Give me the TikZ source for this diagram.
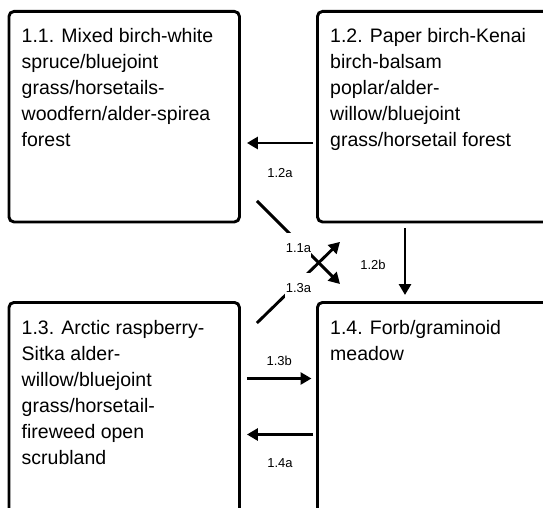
\documentclass[tikz,border=0pt]{standalone}
\usepackage{fontspec}
\setmainfont{Liberation Sans}
\usetikzlibrary{arrows.meta,calc}
\begin{document}
\begin{tikzpicture}[x=1pt,y=-1pt,
  box/.style={draw, line width=2.9pt, rounded corners=5pt, inner sep=0pt, anchor=north west},
  txt/.style={anchor=north west, inner sep=0pt, align=left, font=\fontsize{19.5}{26}\selectfont},
  arr/.style={line width=2.9pt, -{Triangle[length=11pt,width=12pt]}},
  lbl/.style={font=\fontsize{13}{15}\selectfont, inner sep=1pt},
  gaplbl/.style={lbl, fill=white, minimum width=26pt, minimum height=30pt, inner sep=0pt}]
\useasboundingbox (0,0) rectangle (543,508);
\fill[white] (0,0) rectangle (543,508);
\clip (0,0) rectangle (543,508);

% boxes
\node[box, minimum width=230.5pt, minimum height=210.5pt] (b11) at (7.5,10) {};
\node[box, minimum width=260pt, minimum height=210.5pt] (b12) at (316,10) {};
\node[box, minimum width=230.5pt, minimum height=240pt] (b13) at (7.5,301) {};
\node[box, minimum width=260pt, minimum height=240pt] (b14) at (316,301) {};

% texts
\node[txt] (t11) at ($(b11.north west)+(14,17)$) {\rule{0pt}{15pt}1.1. Mixed birch-white\\spruce/bluejoint\\grass/horsetails-\\woodfern/alder-spirea\\forest};
\node[txt] (t12) at ($(b12.north west)+(14,17)$) {\rule{0pt}{15pt}1.2. Paper birch-Kenai\\birch-balsam\\poplar/alder-\\willow/bluejoint\\grass/horsetail forest};
\node[txt] (t13) at ($(b13.north west)+(14,18)$) {\rule{0pt}{15pt}1.3. Arctic raspberry-\\Sitka alder-\\willow/bluejoint\\grass/horsetail-\\fireweed open\\scrubland};
\node[txt] (t14) at ($(b14.north west)+(14,18)$) {\rule{0pt}{15pt}1.4. Forb/graminoid\\meadow};

% connectors
\draw[arr] ($(b12.north west)+(-3,133)$) -- ($(b11.north east)+(6,133)$)
  node[lbl, midway, yshift=-30pt] {1.2a};
\draw[arr] ($(b12.north west)+(89,218)$) -- ($(b14.north west)+(89,-6)$)
  node[lbl, midway, xshift=-32pt, yshift=-3.5pt] {1.2b};
\draw[arr] ($(b11.south east)+(16,-22.5)$) -- ($(b14.north west)+(24,-17)$)
  node[gaplbl, midway, yshift=-5.5pt] {1.1a};
\draw[arr] ($(b13.north east)+(16,22)$) -- ($(b12.south west)+(24,18.5)$)
  node[gaplbl, midway, yshift=-5.5pt] {1.3a};
\draw[arr] ($(b13.north east)+(6,77.5)$) -- ($(b14.north west)+(-4.5,77.5)$)
  node[lbl, midway, yshift=17.5pt] {1.3b};
\draw[arr] ($(b14.north west)+(-3,133.5)$) -- ($(b13.north east)+(6,133.5)$)
  node[lbl, midway, yshift=-28.5pt] {1.4a};
\end{tikzpicture}
\end{document}
